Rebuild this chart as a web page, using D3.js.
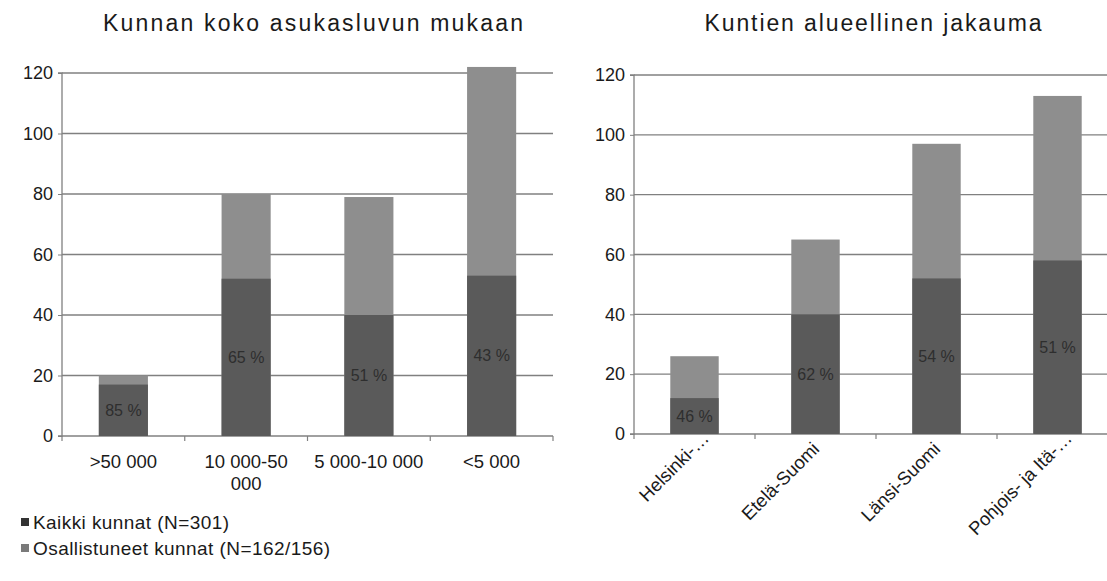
<!DOCTYPE html>
<html>
<head>
<meta charset="utf-8">
<script src="https://cdn.jsdelivr.net/npm/d3@7"></script>
<style>
  html, body { margin: 0; padding: 0; background: #fff; }
  svg { display: block; font-family: "Liberation Sans", Arial, sans-serif; }
</style>
</head>
<body>
<svg id="chart" width="1107" height="581"></svg>
<script>
// ---- Data ----
const leftCategories = [">50 000", "10 000-50 000", "5 000-10 000", "<5 000"];
const leftLabelLines = [[">50 000"], ["10 000-50", "000"], ["5 000-10 000"], ["<5 000"]];
const leftAll = [20, 80, 79, 122];          // Kaikki kunnat
const leftPart = [17, 52, 40, 53];          // Osallistuneet kunnat
const leftPct = ["85 %", "65 %", "51 %", "43 %"];

const rightCategories = ["Helsinki-…", "Etelä-Suomi", "Länsi-Suomi", "Pohjois- ja Itä-…"];
const rightAll = [26, 65, 97, 113];
const rightPart = [12, 40, 52, 58];
const rightPct = ["46 %", "62 %", "54 %", "51 %"];

const yTicks = [0, 20, 40, 60, 80, 100, 120];
const titles = ["Kunnan koko asukasluvun mukaan", "Kuntien alueellinen jakauma"];
const legendLabels = ["Kaikki kunnat (N=301)", "Osallistuneet kunnat (N=162/156)"];

// ---- Styles ----
const darkColor = "#5a5a5a";
const lightColor = "#8e8e8e";
const gridColor = "#808080";
const textColor = "#1a1a1a";

const svg = d3.select("#chart");

function drawPanel(cfg) {
  const g = svg.append("g");
  const x = d3.scaleBand().domain(cfg.categories).range([cfg.x0, cfg.x1])
    .paddingInner(0.6).paddingOuter(0.3);
  const y = d3.scaleLinear().domain([0, 120]).range([cfg.y0, cfg.y1]);

  // gridlines
  g.append("g").selectAll("line").data(yTicks.filter(d => d > 0)).join("line")
    .attr("x1", cfg.x0).attr("x2", cfg.gridEnd)
    .attr("y1", d => y(d)).attr("y2", d => y(d))
    .attr("stroke", gridColor).attr("stroke-width", 1.3);

  // y axis
  const yAxis = d3.axisLeft(y).tickValues(yTicks).tickSize(4).tickPadding(5);
  const ya = g.append("g").attr("transform", `translate(${cfg.x0},0)`).call(yAxis);
  ya.select(".domain").attr("stroke", gridColor).attr("stroke-width", 1.3)
    .attr("d", `M-4,${y(120)}H0V${y(0)}H-4`);
  ya.selectAll(".tick line").attr("stroke", gridColor);
  ya.selectAll(".tick text").attr("font-size", 18).attr("fill", textColor)
    .attr("font-family", "Liberation Sans, Arial, sans-serif");

  // x axis line and ticks at band boundaries
  g.append("line").attr("x1", cfg.x0).attr("x2", cfg.gridEnd)
    .attr("y1", y(0)).attr("y2", y(0)).attr("stroke", gridColor).attr("stroke-width", 1.3);
  const step = x.step();
  const bounds = d3.range(cfg.categories.length + 1).map(i => cfg.x0 + i * step);
  g.append("g").selectAll("line").data(bounds).join("line")
    .attr("x1", d => d).attr("x2", d => d)
    .attr("y1", y(0)).attr("y2", y(0) + 5)
    .attr("stroke", gridColor).attr("stroke-width", 1.2);

  // bars: light (all) then dark (participating)
  g.append("g").selectAll("rect").data(cfg.categories).join("rect")
    .attr("x", d => x(d)).attr("width", x.bandwidth())
    .attr("y", (d, i) => y(cfg.all[i]))
    .attr("height", (d, i) => y(0) - y(cfg.all[i]))
    .attr("fill", lightColor);
  g.append("g").selectAll("rect").data(cfg.categories).join("rect")
    .attr("x", d => x(d)).attr("width", x.bandwidth())
    .attr("y", (d, i) => y(cfg.part[i]))
    .attr("height", (d, i) => y(0) - y(cfg.part[i]))
    .attr("fill", darkColor);

  // percent labels
  g.append("g").selectAll("text").data(cfg.categories).join("text")
    .attr("x", d => x(d) + x.bandwidth() / 2)
    .attr("y", (d, i) => y(cfg.part[i] / 2))
    .attr("dy", "0.35em")
    .attr("text-anchor", "middle")
    .attr("font-size", 16)
    .attr("fill", "#2e2e2e")
    .text((d, i) => cfg.pct[i]);

  // title
  g.append("text").attr("x", cfg.titleX).attr("y", 31)
    .attr("text-anchor", "middle").attr("font-size", 23).attr("fill", textColor)
    .attr("textLength", cfg.titleLen).attr("lengthAdjust", "spacing")
    .text(cfg.title);

  return { x, y, g };
}

// Left panel
const L = drawPanel({
  categories: leftCategories, all: leftAll, part: leftPart, pct: leftPct,
  x0: 62, x1: 553, gridEnd: 553, y0: 436, y1: 73,
  title: titles[0], titleX: 313, titleLen: 420
});
L.g.append("g").selectAll("text").data(leftCategories).join("text")
  .attr("x", d => L.x(d) + L.x.bandwidth() / 2)
  .attr("y", 468)
  .attr("text-anchor", "middle").attr("font-size", 18.5).attr("fill", textColor)
  .each(function(d, i) {
    const t = d3.select(this);
    leftLabelLines[i].forEach((line, j) => {
      t.append("tspan").attr("x", L.x(d) + L.x.bandwidth() / 2)
        .attr("dy", j === 0 ? 0 : 22).text(line);
    });
  });

// Right panel
const R = drawPanel({
  categories: rightCategories, all: rightAll, part: rightPart, pct: rightPct,
  x0: 634, x1: 1118, gridEnd: 1107, y0: 434, y1: 75,
  title: titles[1], titleX: 873, titleLen: 337
});
R.g.append("g").selectAll("text").data(rightCategories).join("text")
  .attr("text-anchor", "end").attr("font-size", 18.5).attr("fill", textColor)
  .text(d => d)
  .each(function(d) {
    // the trailing ellipsis hangs past the anchor point
    let extra = 0;
    if (d.endsWith("…")) {
      extra = this.getSubStringLength(d.length - 1, 1) * 0.8;
    }
    const cx = R.x(d) + R.x.bandwidth() / 2 + 5 + extra * Math.SQRT1_2;
    const cy = 450 - extra * Math.SQRT1_2;
    d3.select(this).attr("transform", `translate(${cx},${cy}) rotate(-45)`);
  });

// Legend
const legend = svg.append("g");
const legendColors = ["#333333", "#7a7a7a"];
const legendLens = [196, 297];
legendLabels.forEach((lab, i) => {
  const yy = 522 + i * 26;
  legend.append("rect").attr("x", 21).attr("y", yy - 4).attr("width", 8).attr("height", 8)
    .attr("fill", legendColors[i]);
  legend.append("text").attr("x", 33).attr("y", yy).attr("dy", "0.35em")
    .attr("font-size", 19).attr("fill", textColor)
    .attr("textLength", legendLens[i]).attr("lengthAdjust", "spacing")
    .text(lab);
});
</script>
</body>
</html>
